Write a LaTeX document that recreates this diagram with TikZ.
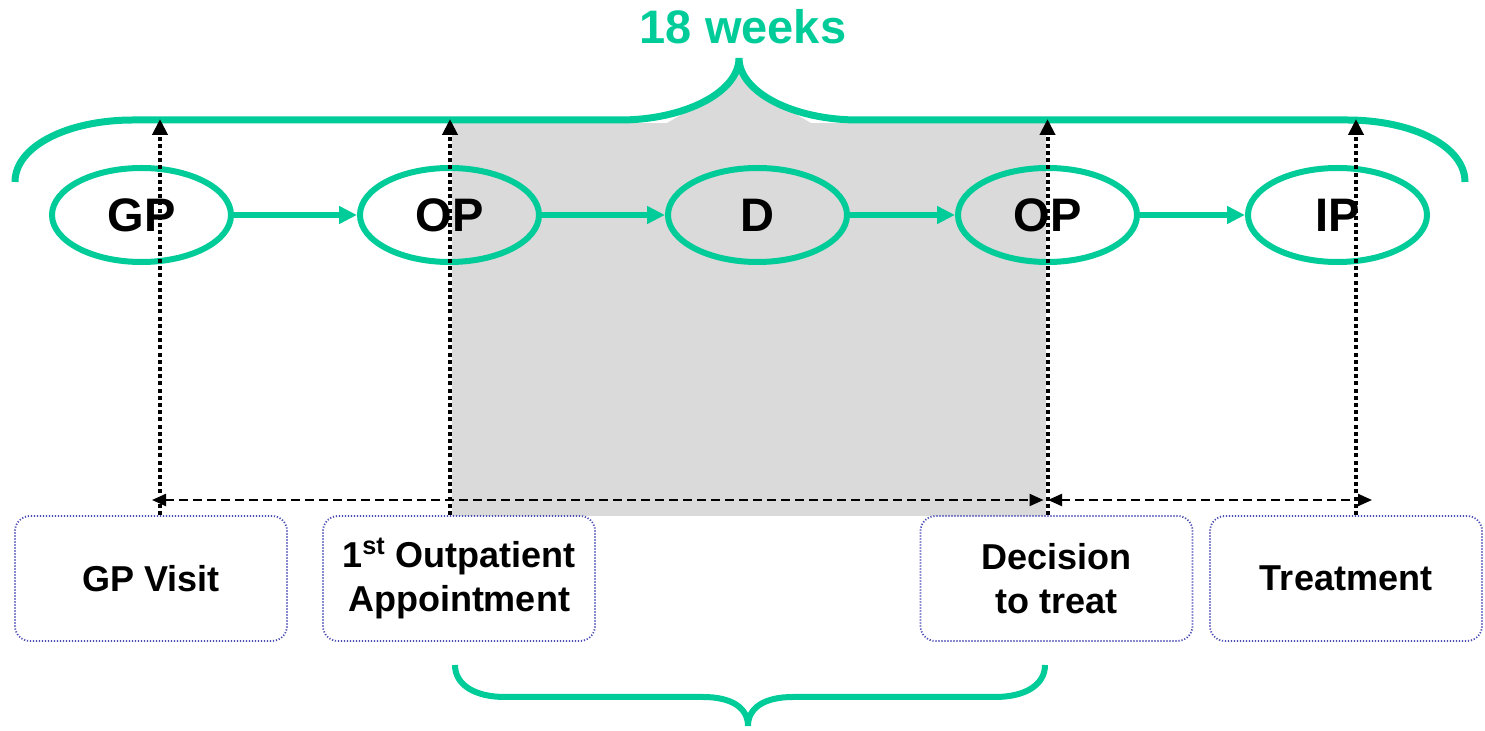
\documentclass[tikz,border=0pt]{standalone}
\usepackage{fontspec}
\setmainfont{Liberation Sans}
\usetikzlibrary{arrows.meta,shapes.geometric}
\definecolor{pathgreen}{HTML}{00CC99}
\definecolor{spangrey}{HTML}{DADADA}
\definecolor{boxline}{HTML}{4B4BB4}
\begin{document}
\begin{tikzpicture}[x=0.5pt,y=-0.5pt,
  stage/.style={ellipse,draw=pathgreen,line width=3pt,minimum width=89.5pt,
    minimum height=47pt,inner sep=0pt,font=\fontsize{23.5}{28}\selectfont\bfseries},
  flow/.style={draw=pathgreen,line width=3pt,-{Triangle[length=9pt,width=8.5pt]}},
  event/.style={draw=boxline,line width=0.9pt,dash pattern=on 0.6pt off 0.9pt,
    rounded corners=7.5pt,minimum width=136pt,minimum height=62.5pt,inner sep=0pt,
    align=center,font=\fontsize{18}{22}\selectfont\bfseries},
  marker/.style={draw=black,line width=2pt,dash pattern=on 2pt off 1.6pt,
    -{Triangle[length=8pt,width=7.5pt]}},
  interval/.style={draw=black,line width=1.1pt,dash pattern=on 4.5pt off 2.5pt,
    {Triangle[length=7pt,width=6pt]}-{Triangle[length=7pt,width=6pt]}},
  brace/.style={draw=pathgreen,line width=3.5pt},
  heading/.style={text=pathgreen,font=\fontsize{23.5}{28}\selectfont\bfseries,inner sep=0pt}]

\useasboundingbox (0,0) rectangle (1485,731);

% shaded span between first outpatient visit and decision to treat
\fill[spangrey] (452,123) rectangle (1046,516);
\fill[spangrey] (667,123) -- (703.9,101.75) .. controls (725.5,90.5) and (739,75) .. (739,58)
  .. controls (739,75) and (752.5,90.5) .. (774.1,101.75) -- (811,123) -- cycle;

% 18-week brace
\draw[brace] (15,182) .. controls (15,146) and (68,120) .. (133,120) -- (620,120)
  .. controls (685,120) and (739,92) .. (739,58)
  .. controls (739,92) and (793,120) .. (858,120) -- (1347,120)
  .. controls (1412,120) and (1465,146) .. (1465,182);
\node[heading,anchor=base] (weeks) at (743,44) {18 weeks};

% pathway stages
\node[stage] (gp)  at (141.5,215) {GP};
\node[stage] (op1) at (449.5,215) {OP};
\node[stage] (d)   at (757.5,215) {D};
\node[stage] (op2) at (1047.5,215) {OP};
\node[stage] (ip)  at (1337.5,215) {IP};

\draw[flow] (gp) -- (op1);
\draw[flow] (op1) -- (d);
\draw[flow] (d) -- (op2);
\draw[flow] (op2) -- (ip);

% milestone boxes
\node[event] (visit)  at (151,578.5) {GP Visit};
\node[event] (first)  at (459,578.5) {1\textsuperscript{st} Outpatient\\Appointment};
\node[event] (decide) at (1056.5,578.5) {Decision\\to treat};
\node[event] (treat)  at (1346,578.5) {Treatment};

% milestone markers up to the brace
\coordinate (m1) at (160,119);
\coordinate (m2) at (450,119);
\coordinate (m3) at (1047.5,119);
\coordinate (m4) at (1356,119);
\draw[marker] (m1 |- visit.north) -- (m1);
\draw[marker] (m2 |- first.north) -- (m2);
\draw[marker] (m3 |- decide.north) -- (m3);
\draw[marker] (m4 |- treat.north) -- (m4);

% measured intervals
\coordinate (a1) at (152,500);
\coordinate (a2) at (1043.5,500);
\coordinate (b1) at (1048,500);
\coordinate (b2) at (1372,500);
\draw[interval] (a1) -- (a2);
\draw[interval] (b1) -- (b2);

% lower brace
\draw[brace,line width=3pt] (455,665) .. controls (455,685) and (475,697) .. (505,697)
  -- (703,697) .. controls (732,697) and (748,708) .. (748,726)
  .. controls (748,708) and (764,697) .. (793,697) -- (995,697)
  .. controls (1025,697) and (1045,685) .. (1045,665);
\end{tikzpicture}
\end{document}
